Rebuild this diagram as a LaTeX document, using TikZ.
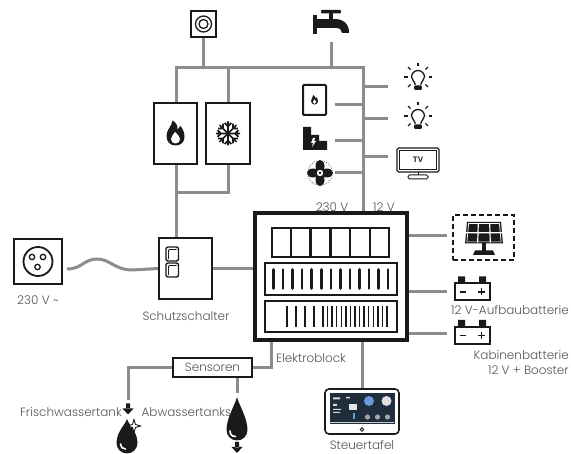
\documentclass[tikz,border=0pt]{standalone}
\usepackage{fontspec}
\setmainfont{Poppins Light}
\newfontfamily\tvfont{Liberation Sans}
\usetikzlibrary{calc,backgrounds}
\definecolor{wire}{HTML}{8C8C8C}
\definecolor{ink}{HTML}{1A1A1A}
\definecolor{txt}{HTML}{555555}
\definecolor{screen}{HTML}{1F2D3D}
\tikzset{
  conn/.style={draw=wire,line width=3pt},
  frame/.style={draw=ink,line width=2.5pt,fill=white,inner sep=0pt,outer sep=0pt},
  lbl/.style={text=txt,font=\fontsize{12}{15}\selectfont,inner sep=0pt},
  spot/.style={inner sep=0pt,minimum size=0pt},
  flame/.pic={
    \fill[ink] (0,12) .. controls (-6,12) and (-9,7.5) .. (-9,2.5)
      .. controls (-9,-3.5) and (-4,-7) .. (-3,-13)
      .. controls (1,-10.5) and (2.5,-7.5) .. (2,-4)
      .. controls (3.5,-5) and (4.5,-6.5) .. (4.5,-8)
      .. controls (8,-4) and (9,0) .. (9,3.5)
      .. controls (9,8.5) and (5.5,12) .. (0,12) -- cycle;
    \fill[white] (0,10) .. controls (-3,10) and (-4.5,8) .. (-4.5,5.5)
      .. controls (-4.5,3) and (-2,1) .. (-0.5,-1.5)
      .. controls (2,1) and (4.5,3) .. (4.5,5.5)
      .. controls (4.5,8) and (3,10) .. (0,10) -- cycle;
  },
  snow/.pic={
    \foreach \a in {0,45,...,315}{
      \draw[ink,line width=1.7pt,rotate=\a] (0,0) -- (12,0)
        (7,0) -- (10.5,-3.4) (7,0) -- (10.5,3.4);
    }
  },
  bulb/.pic={
    \draw[ink,line width=1.3pt,line join=round] (-3,5) -- (-3,3.5)
      .. controls (-3,1.5) and (-6.5,0) .. (-6.5,-3)
      arc[start angle=180,end angle=360,radius=6.5]
      .. controls (6.5,0) and (3,1.5) .. (3,3.5) -- (3,5);
    \fill[ink,rounded corners=1pt] (-3.8,5.5) rectangle (3.8,10);
    \foreach \a in {0,45,135,180,225,270,315}{
      \draw[ink,line width=1.4pt] ([shift={(0,-3)}]\a:10.5) -- ([shift={(0,-3)}]\a:14);
    }
  },
  tvset/.pic={
    \draw[ink,line width=1.2pt,rounded corners=1.5pt] (-21,-12) rectangle (21,12);
    \draw[ink,line width=0.7pt] (-18.5,-9.5) rectangle (18.5,9.5);
    \node[inner sep=0pt,font=\tvfont\bfseries\fontsize{8}{8}\selectfont,text=ink] (-t) at (0,0) {TV};
    \draw[ink,line width=1pt] (0,12) -- (0,15);
    \draw[ink,line width=1pt,rounded corners=1.5pt] (-10,15) rectangle (10,19);
  },
  boiler/.pic={
    \draw[ink,line width=2pt,rounded corners=1pt] (-11.5,-15) rectangle (11.5,15);
    \pic[scale=0.38] {flame};
  },
  radiator/.pic={
    \fill[ink] (-12,-11.5) -- (-4,-11.5) -- (-4,-3.5) -- (4,-3.5) -- (4,2.5)
      -- (12,2.5) -- (12,11.5) -- (-12,11.5) -- cycle;
    \fill[white] (-2,-0.5) -- (-4,4.5) -- (-2,4.5) -- (-3,8.5) -- (1,2.5)
      -- (-1,2.5) -- (0,-0.5) -- cycle;
  },
  fan/.pic={
    \draw[ink,line width=0.5pt,dash pattern=on 1pt off 1.5pt] (0,0) circle (12.5);
    \fill[ink] (0,-7) ellipse (4.5 and 6) (0,7) ellipse (4.5 and 6)
      (-7,0) ellipse (6 and 4.5) (7,0) ellipse (6 and 4.5);
    \fill[white] (0,0) circle (3.2);
    \fill[ink] (0,0) circle (1.5);
  },
  battery/.pic={
    \fill[ink] (-14,-15) rectangle (-7,-8) (7,-15) rectangle (14,-8);
    \draw[ink,line width=2pt,fill=white] (-17.5,-8) rectangle (17.5,9);
    \draw[ink,line width=1.8pt] (-12.5,0.5) -- (-6,0.5) (6,0.5) -- (13,0.5) (9.5,-3) -- (9.5,4);
  }
}
\begin{document}
\begin{tikzpicture}[x=1pt,y=-1pt]
\useasboundingbox (0,0) rectangle (571,454);

% ---------- boxes ----------
\node[frame,line width=1.6pt,minimum width=25pt,minimum height=26pt] (gas) at (203.5,24) {};
\draw[ink,line width=1.3pt] (gas) circle (8) (gas) circle (4.5);

\node[frame,minimum width=43pt,minimum height=61pt] (heat) at (175.5,133.5) {};
\pic at (heat) {flame};
\node[frame,minimum width=44pt,minimum height=61pt] (cool) at (228,133.5) {};
\pic at (cool) {snow};

\node[frame,minimum width=53pt,minimum height=61pt] (breaker) at (185.5,268.5) {};
\draw[ink,line width=1.4pt,rounded corners=2pt] (166,247) rectangle (178.5,261) (166,263) rectangle (178.5,277);
\draw[ink,line width=0.8pt,rounded corners=1pt] (168.5,259) |- (176.5,249.5) (168.5,275) |- (176.5,265.5);

\node[frame,line width=1.8pt,minimum width=48pt,minimum height=45pt] (mains) at (38,261.5) {};
\draw[ink,line width=1.8pt] (mains) circle (14.5);
\draw[ink,line width=1.3pt] (32,257) circle (2.7) (43,257) circle (2.7) (37.5,267) circle (2.7);

\node[frame,line width=3.5pt,minimum width=152pt,minimum height=127pt] (eblock) at (331,276.5) {};
\foreach \i in {0,...,5}
  \draw[ink,line width=1.3pt] ({272+19.7*\i},228) rectangle ({272+19.7*\i+18.4},257);
\draw[ink,line width=1.5pt] (265,263) rectangle (397,295);
\foreach \i in {0,...,12}
  \draw[ink,line width=2.6pt,line cap=round] ({273.5+9.55*\i},269.5) -- ++(0,19);
\draw[ink,line width=1.5pt] (265,301) rectangle (397,332);
\foreach \xx in {287,296,305,314}
  \draw[ink,line width=1.8pt] (\xx,306) -- (\xx,327);
\foreach \i in {0,...,14}
  \draw[ink,line width=1.5pt] ({323+4.57*\i},306) -- ++(0,21);

\node[frame,minimum width=79pt,minimum height=19pt] (sensors) at (212.5,367.5) {};
\node[lbl] (sensorsText) at (sensors) {Sensoren};

\node[draw=ink,line width=1.6pt,rounded corners=4pt,minimum width=74pt,minimum height=45pt,fill=white,inner sep=0pt] (panel) at (362,411.5) {};
\fill[screen] (329.5,393.5) rectangle (394.5,424.5);
\fill[white!70!gray] (333,397.5) rectangle (340,399.5) (346,397) rectangle (350,398.5)
  (333,409) rectangle (341,410) (333,412) rectangle (340,413) (333,404) rectangle (337,406);
\fill[white!80!gray] (349,404) rectangle (357,410);
\fill[cyan!70!black!80] (353,413) rectangle (354.5,419);
\fill[cyan!50!blue!60] (369,401) circle (5);
\fill[white!75!gray] (386.5,401) circle (5);
\foreach \xx in {367.5,377.5,387.5} \fill[gray!70] (\xx,417) circle (2.6);
\draw[white!60!gray,line width=0.4pt] (330,422.5) -- (394,422.5);
\draw[ink,line width=0.9pt] (362,429.5) circle (1.8);

% ---------- loads on the 12 V side ----------
\node[spot] (boiler) at (314.5,100) {};
\pic at (boiler) {boiler};
\node[spot] (radiator) at (315,138.5) {};
\pic at (radiator) {radiator};
\node[spot] (fanunit) at (320,173) {};
\pic at (fanunit) {fan};
\node[spot] (bulbA) at (418,80) {};
\pic at (bulbA) {bulb};
\node[spot] (bulbB) at (418,119) {};
\pic at (bulbB) {bulb};
\node[spot] (tv) at (418,160) {};
\pic (tvX) at (tv) {tvset};

% tap
\node[spot] (tap) at (331,23) {};
\fill[ink] (313,15) rectangle (317,34);
\fill[ink] (316,19) rectangle (336,28);
\fill[ink] (334,19) .. controls (344,19) and (349,24) .. (349,33) -- (342,33)
  .. controls (342,30) and (340,28) .. (336,28) -- cycle;
\fill[ink] (329,13) rectangle (333,19);
\fill[ink,rounded corners=1pt] (321,10) rectangle (341,13.5);

% solar panel
\node[draw=ink,line width=1.5pt,dash pattern=on 5pt off 3pt,minimum width=61pt,minimum height=45pt,inner sep=0pt] (solar) at (483.5,237.5) {};
\fill[ink] (467,222) -- (501,222) -- (503,243.5) -- (465,243.5) -- cycle;
\draw[white,line width=0.7pt] (468.6,223.6) -- (499.4,223.6) -- (501.1,241.9) -- (466.9,241.9) -- cycle;
\draw[white,line width=1.2pt] (478.3,223) -- (477.7,242.5) (489.7,223) -- (490.3,242.5) (466,232.7) -- (502,232.7);
\fill[ink] (482,243) rectangle (486,251);
\fill[ink] (475,250.5) -- (493,250.5) -- (495,255) -- (473,255) -- cycle;

% batteries
\node[spot] (batA) at (472,291.5) {};
\pic at (batA) {battery};
\node[spot] (batB) at (472,335) {};
\pic at (batB) {battery};

% water tanks
\node[spot] (fresh) at (127,440) {};
\fill[ink] (127,419) .. controls (129,425) and (137.5,432) .. (137.5,443)
  arc[start angle=0,end angle=180,radius=10.5] .. controls (116.5,432) and (125,425) .. cycle;
\draw[white,line width=1.6pt,line cap=round] (120.5,444) .. controls (120.5,447) and (122.5,449) .. (125.5,449);
\draw[ink,line width=0.9pt,fill=white] (134,419.5) -- (135.5,424.5) -- (140.5,426) -- (135.5,427.5)
  -- (134,432.5) -- (132.5,427.5) -- (127.5,426) -- (132.5,424.5) -- cycle;
\fill[ink] (126,403.5) rectangle (130,409) (122.5,408.5) -- (133.5,408.5) -- (128,414.5) -- cycle;

\node[spot] (waste) at (237,425) {};
\fill[ink] (237,397) .. controls (239,405) and (247.5,418) .. (247.5,430)
  arc[start angle=0,end angle=180,radius=10.5] .. controls (226.5,418) and (235,405) .. cycle;
\draw[white,line width=1.6pt,line cap=round] (230,431) .. controls (230,434.5) and (232,436.5) .. (235.5,436.5);
\fill[ink] (235,442) rectangle (239,447.5) (231.5,447) -- (242.5,447) -- (237,453) -- cycle;

% ---------- labels ----------
\node[lbl] (lMains) at (38,300) {230 V \textasciitilde};
\node[lbl] (lBreaker) at (186,316) {Schutzschalter};
\node[lbl] (lEblock) at (311,358) {Elektroblock};
\node[lbl] (l230) at (332,207) {230 V};
\node[lbl] (l12) at (384,207) {12 V};
\node[lbl,anchor=east] (lFresh) at (122,412) {Frischwassertank};
\node[lbl,anchor=east] (lWaste) at (231.5,412) {Abwassertanks};
\node[lbl,anchor=base] (lPanel) at (362,449.5) {Steuertafel};
\node[lbl] (lBatA) at (510,310) {12 V-Aufbaubatterie};
\node[lbl,align=right,anchor=north east] (lBatB) at (569,350) {Kabinenbatterie\\12 V + Booster};

% ---------- wiring ----------
\coordinate (busL) at (176,68);
\coordinate (busR) at (363,68);
\coordinate (heatJoin) at (176,193);
\coordinate (tapFoot) at (331,42);
\coordinate (plug) at (67,269);
\coordinate (wBoiler) at (335,105);
\coordinate (wRadiator) at (335,141);
\coordinate (wFan) at (335,173);
\coordinate (wBulbA) at (388,87);
\coordinate (wBulbB) at (388,119);
\coordinate (wTv) at (388,157);
\coordinate (wSolar) at (447,235.5);
\coordinate (wBatA) at (447,292);
\coordinate (wBatB) at (447,334);
\coordinate (sensTap) at (271,367.5);
\coordinate (freshTap) at (128,400);
\coordinate (wasteTap) at (237,393);

\begin{scope}[on background layer]
  \draw[conn] (gas) -- (gas |- busL);
  \draw[conn] (tapFoot) -- (tapFoot |- busL);
  \draw[conn] (busL |- heat.north) -- (busL) -- (busR) -- (busR |- eblock.north);
  \draw[conn] (cool.north) -- (cool.north |- busL);
  \draw[conn] (busL |- heat.south) -- (heatJoin) -| (cool.south);
  \draw[conn] (heatJoin) -- (heatJoin |- breaker.north);
  \draw[conn] (plug) .. controls (82,269) and (84,259) .. (97,259)
    .. controls (110,259) and (115,270) .. (132,270) -- (breaker.west);
  \draw[conn] (breaker.east) -- (breaker.east -| eblock.west);
  \foreach \w in {wBoiler,wRadiator,wFan,wBulbA,wBulbB,wTv}
    \draw[conn] (\w) -- (\w -| busR);
  \foreach \w in {wSolar,wBatA,wBatB}
    \draw[conn] (\w -| eblock.east) -- (\w);
  \draw[conn] (sensTap |- eblock.south) -- (sensTap) -- (sensors.east);
  \draw[conn] (sensors.west) -| (freshTap);
  \draw[conn] (wasteTap |- sensors.south) -- (wasteTap);
  \draw[conn] (panel.north |- eblock.south) -- (panel.north);
\end{scope}
\end{tikzpicture}
\end{document}
